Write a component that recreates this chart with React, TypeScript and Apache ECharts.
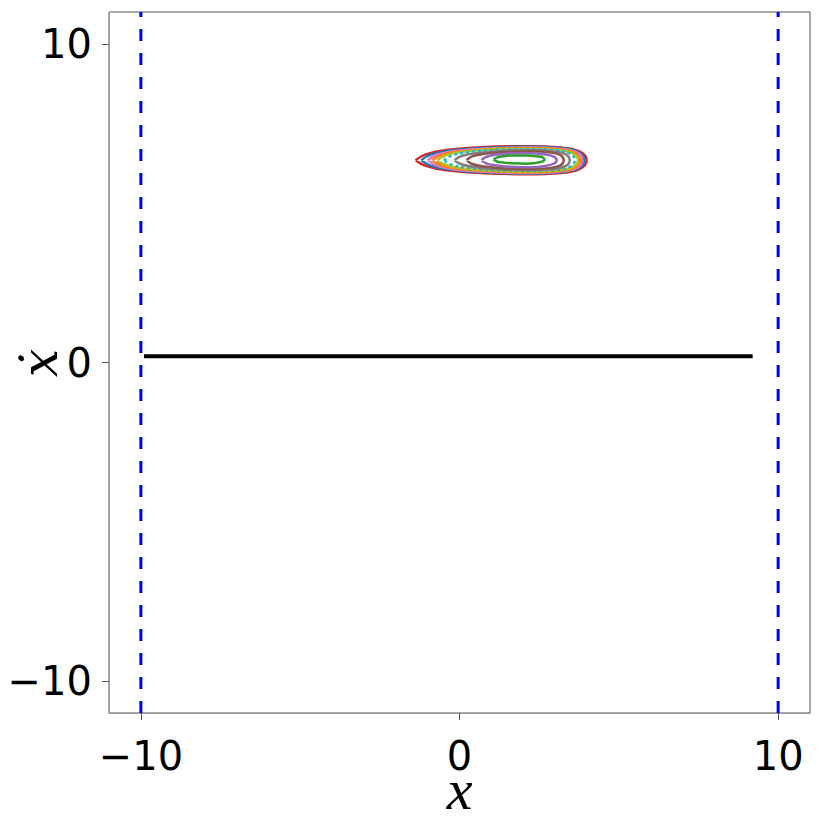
import React, { useEffect, useRef } from "react";
import * as echarts from "echarts";

const xTicks = [-10, 0, 10];
const yTicks = [-10, 0, 10];
const boundaryX = [-10, 10];
const blackLine: number[][] = [[-9.9, 0.2], [9.2, 0.2]];

const orbitRed: number[][] = [[-1.38,6.35],[-1.06,6.53],[-0.41,6.67],[0.77,6.76],[2.11,6.79],[3.18,6.75],[3.78,6.62],[3.99,6.35],[3.78,6.08],[3.18,5.95],[2.11,5.91],[0.77,5.94],[-0.41,6.03],[-1.06,6.17],[-1.38,6.35]];
const orbitBlue: number[][] = [[-1.2,6.35],[-0.89,6.53],[-0.28,6.65],[0.85,6.74],[2.13,6.77],[3.15,6.73],[3.72,6.61],[3.92,6.35],[3.72,6.09],[3.15,5.97],[2.13,5.93],[0.85,5.96],[-0.28,6.05],[-0.89,6.17],[-1.2,6.35]];
const orbitPink: number[][] = [[-1.0,6.35],[-0.71,6.52],[-0.13,6.64],[0.94,6.72],[2.16,6.75],[3.13,6.71],[3.67,6.6],[3.86,6.35],[3.67,6.1],[3.13,5.99],[2.16,5.95],[0.94,5.98],[-0.13,6.06],[-0.71,6.18],[-1.0,6.35]];
const orbitOrange: number[][] = [[-0.85,6.35],[-0.57,6.51],[-0.02,6.62],[1.0,6.7],[2.16,6.73],[3.09,6.69],[3.59,6.59],[3.78,6.35],[3.59,6.11],[3.09,6.01],[2.16,5.97],[1.0,6.0],[-0.02,6.08],[-0.57,6.19],[-0.85,6.35]];
const orbitOlive: number[][] = [[-0.7,6.35],[-0.43,6.5],[0.1,6.61],[1.07,6.69],[2.17,6.71],[3.06,6.67],[3.54,6.57],[3.72,6.35],[3.54,6.13],[3.06,6.03],[2.17,5.99],[1.07,6.02],[0.1,6.09],[-0.43,6.2],[-0.7,6.35]];
const orbitCyan: number[][] = [[-0.5,6.35],[-0.25,6.49],[0.24,6.6],[1.15,6.67],[2.18,6.69],[3.0,6.66],[3.46,6.56],[3.62,6.35],[3.46,6.14],[3.0,6.04],[2.18,6.01],[1.15,6.03],[0.24,6.11],[-0.25,6.21],[-0.5,6.35]];
const orbitGray: number[][] = [[-0.16,6.35],[0.06,6.48],[0.49,6.57],[1.29,6.64],[2.19,6.66],[2.92,6.63],[3.32,6.54],[3.46,6.35],[3.32,6.16],[2.92,6.07],[2.19,6.04],[1.29,6.06],[0.49,6.13],[0.06,6.22],[-0.16,6.35]];
const orbitBrown: number[][] = [[0.22,6.35],[0.4,6.47],[0.77,6.55],[1.44,6.61],[2.2,6.63],[2.81,6.6],[3.15,6.52],[3.27,6.35],[3.15,6.18],[2.81,6.1],[2.2,6.07],[1.44,6.09],[0.77,6.15],[0.4,6.23],[0.22,6.35]];
const orbitPurple: number[][] = [[0.69,6.35],[0.83,6.45],[1.11,6.52],[1.63,6.56],[2.22,6.57],[2.7,6.53],[2.96,6.46],[3.05,6.35],[2.96,6.24],[2.7,6.17],[2.22,6.13],[1.63,6.14],[1.11,6.19],[0.83,6.25],[0.69,6.35]];
const orbitGreen: number[][] = [[1.07,6.37],[1.17,6.43],[1.36,6.47],[1.71,6.5],[2.11,6.5],[2.43,6.47],[2.61,6.44],[2.67,6.37],[2.61,6.31],[2.43,6.27],[2.11,6.24],[1.71,6.25],[1.36,6.28],[1.17,6.31],[1.07,6.37]];

const orbits: { data: number[][]; color: string; dotted?: boolean }[] = [
  { data: orbitRed, color: "#d62728" },
  { data: orbitBlue, color: "#1f77b4" },
  { data: orbitPink, color: "#e377c2" },
  { data: orbitOrange, color: "#ff7f0e" },
  { data: orbitOlive, color: "#bcbd22" },
  { data: orbitCyan, color: "#17becf", dotted: true },
  { data: orbitGray, color: "#7f7f7f" },
  { data: orbitBrown, color: "#8c564b" },
  { data: orbitPurple, color: "#9467bd" },
  { data: orbitGreen, color: "#2ca02c" },
];

const fmt = (v: number) => (v < 0 ? "\u2212" + Math.abs(v) : String(v));

export default function App() {
  const ref = useRef<HTMLDivElement>(null);
  useEffect(() => {
    if (!ref.current) return;
    const chart = echarts.init(ref.current, null, { renderer: "svg" });
    const series: any[] = [];
    orbits.forEach((o) => {
      series.push({
        type: "line",
        data: o.data,
        smooth: 0.4,
        showSymbol: false,
        lineStyle: { color: o.color, width: 2.5, type: o.dotted ? [3, 3] : "solid" },
        silent: true,
      });
    });
    boundaryX.forEach((bx) => {
      series.push({
        type: "line",
        data: [[bx, -11], [bx, 11]],
        showSymbol: false,
        lineStyle: { color: "#0000ff", width: 3, type: [12, 12] },
        silent: true,
      });
    });
    series.push({
      type: "line",
      data: blackLine,
      showSymbol: false,
      lineStyle: { color: "#000000", width: 4 },
      silent: true,
    });
    chart.setOption({
      animation: false,
      backgroundColor: "#ffffff",
      grid: { left: 109, top: 12, right: 20, bottom: 117, show: true, borderColor: "#555555", borderWidth: 1, containLabel: false, outerBoundsMode: "none" },
      graphic: [
        {
          type: "text",
          x: 40,
          y: 363,
          rotation: Math.PI / 2,
          style: { text: "\u1E8B", fontFamily: "DejaVu Serif", fontStyle: "italic", fontSize: 50, fill: "#000", align: "center", verticalAlign: "middle" },
        },
      ],
      xAxis: {
        type: "value",
        min: -11,
        max: 11,
        name: "x",
        nameLocation: "middle",
        nameGap: 66,
        nameMoveOverlap: false,
        nameTextStyle: { fontFamily: "Liberation Serif", fontStyle: "italic", fontSize: 58, color: "#000", lineHeight: 20 },
        axisLine: { show: true, onZero: false, lineStyle: { color: "#999999", width: 1 } },
        axisTick: { show: true, inside: false, length: 7, customValues: xTicks, lineStyle: { color: "#555" } },
        axisLabel: { customValues: xTicks, formatter: fmt, fontFamily: "DejaVu Sans", fontSize: 40, color: "#000", margin: 23 },
        splitLine: { show: false },
      },
      yAxis: {
        type: "value",
        min: -11,
        max: 11,
        axisLine: { show: true, onZero: false, lineStyle: { color: "#999999", width: 1 } },
        axisTick: { show: true, inside: false, length: 7, customValues: yTicks, lineStyle: { color: "#555" } },
        axisLabel: { customValues: yTicks, formatter: fmt, fontFamily: "DejaVu Sans", fontSize: 40, color: "#000", margin: 17 },
        splitLine: { show: false },
      },
      series,
    });
    return () => chart.dispose();
  }, []);
  return <div ref={ref} style={{ position: "fixed", left: 0, top: 0, width: 830, height: 830 }} />;
}
